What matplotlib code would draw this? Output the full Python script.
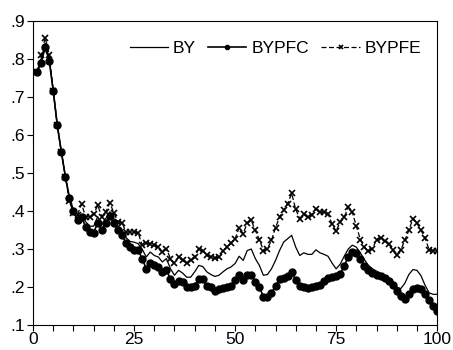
import numpy as np
import matplotlib.pyplot as plt
from matplotlib.ticker import MultipleLocator, FuncFormatter

plt.rcParams['font.family'] = ['Liberation Sans', 'DejaVu Sans']

# periodos 1..100
periodo = np.arange(1, 101)

by = [0.765, 0.800, 0.840, 0.800, 0.715, 0.625, 0.555, 0.490, 0.432, 0.400,
      0.378, 0.390, 0.372, 0.360, 0.360, 0.385, 0.365, 0.380, 0.398, 0.380,
      0.360, 0.350, 0.330, 0.320, 0.318, 0.314, 0.300, 0.279, 0.292, 0.283,
      0.279, 0.266, 0.275, 0.248, 0.231, 0.244, 0.237, 0.226, 0.226, 0.240,
      0.257, 0.254, 0.240, 0.233, 0.228, 0.231, 0.240, 0.248, 0.253, 0.262,
      0.281, 0.270, 0.296, 0.300, 0.275, 0.257, 0.231, 0.233, 0.248, 0.270,
      0.296, 0.318, 0.327, 0.336, 0.305, 0.283, 0.290, 0.286, 0.286, 0.298,
      0.290, 0.286, 0.281, 0.263, 0.248, 0.260, 0.281, 0.300, 0.310, 0.305,
      0.290, 0.272, 0.257, 0.248, 0.242, 0.235, 0.228, 0.220, 0.210, 0.200,
      0.196, 0.210, 0.233, 0.246, 0.244, 0.230, 0.205, 0.185, 0.181, 0.181]

bypfc = [0.765, 0.790, 0.830, 0.795, 0.715, 0.625, 0.555, 0.490, 0.435, 0.400,
         0.376, 0.385, 0.358, 0.345, 0.343, 0.369, 0.351, 0.369, 0.386, 0.369,
         0.350, 0.338, 0.315, 0.305, 0.297, 0.297, 0.275, 0.248, 0.263, 0.257,
         0.253, 0.240, 0.244, 0.222, 0.209, 0.216, 0.213, 0.200, 0.200, 0.204,
         0.222, 0.220, 0.204, 0.200, 0.190, 0.196, 0.197, 0.200, 0.204, 0.218,
         0.231, 0.218, 0.233, 0.233, 0.213, 0.200, 0.175, 0.174, 0.184, 0.204,
         0.220, 0.225, 0.228, 0.240, 0.218, 0.204, 0.200, 0.198, 0.200, 0.204,
         0.206, 0.216, 0.225, 0.226, 0.228, 0.235, 0.255, 0.280, 0.292, 0.290,
         0.275, 0.255, 0.245, 0.237, 0.233, 0.230, 0.225, 0.215, 0.205, 0.190,
         0.176, 0.170, 0.182, 0.195, 0.198, 0.195, 0.182, 0.165, 0.150, 0.137]

bypfe = [0.765, 0.810, 0.855, 0.810, 0.715, 0.625, 0.555, 0.490, 0.425, 0.395,
         0.390, 0.418, 0.385, 0.385, 0.391, 0.415, 0.385, 0.397, 0.421, 0.395,
         0.372, 0.369, 0.345, 0.345, 0.345, 0.343, 0.310, 0.315, 0.314, 0.310,
         0.305, 0.292, 0.301, 0.275, 0.262, 0.279, 0.270, 0.262, 0.270, 0.279,
         0.301, 0.296, 0.283, 0.279, 0.277, 0.279, 0.296, 0.305, 0.315, 0.327,
         0.356, 0.340, 0.369, 0.375, 0.349, 0.325, 0.296, 0.301, 0.323, 0.356,
         0.384, 0.402, 0.419, 0.446, 0.404, 0.380, 0.391, 0.384, 0.389, 0.406,
         0.397, 0.397, 0.393, 0.365, 0.347, 0.371, 0.384, 0.410, 0.397, 0.360,
         0.325, 0.305, 0.294, 0.301, 0.325, 0.330, 0.321, 0.314, 0.298, 0.283,
         0.298, 0.323, 0.349, 0.380, 0.368, 0.349, 0.330, 0.298, 0.296, 0.296]

fig = plt.figure(figsize=(4.53, 3.5), dpi=100)
ax = fig.add_axes([0.073, 0.071, 0.892, 0.870])

ax.plot(periodo, by, color='black', lw=0.9, label='BY')
ax.plot(periodo, bypfc, color='black', lw=1.2, marker='o', markersize=5,
        label='BYPFC')
ax.plot(periodo, bypfe, color='black', lw=0.9, ls=(0, (4, 2)), marker='x',
        markersize=5, markeredgewidth=1.2, label='BYPFE')

ax.set_xlim(0, 100)
ax.set_ylim(0.1, 0.9)
ax.xaxis.set_major_locator(MultipleLocator(25))
ax.xaxis.set_minor_locator(MultipleLocator(5))
ax.yaxis.set_major_locator(MultipleLocator(0.1))
ax.yaxis.set_major_formatter(FuncFormatter(lambda v, p: ('%.1f' % v).lstrip('0')))
ax.tick_params(axis='both', which='both', direction='out', labelsize=12.5,
               length=4, width=0.8, pad=2)
ax.tick_params(axis='x', which='major', pad=1)
for s in ax.spines.values():
    s.set_linewidth(0.8)

leg = ax.legend(loc='center', bbox_to_anchor=(0.6, 0.91), ncol=3, frameon=False,
                fontsize=12.5, handlelength=2.2, handletextpad=0.3,
                columnspacing=0.7, markerscale=0.6, borderpad=0)

fig.savefig('out.png', dpi=100)
